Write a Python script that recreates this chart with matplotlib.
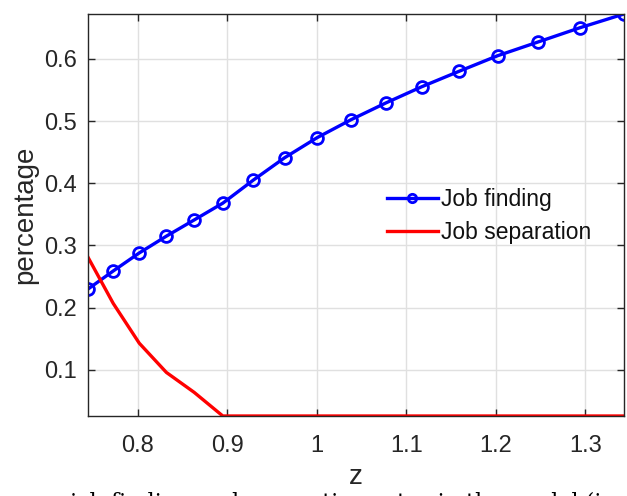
import matplotlib
matplotlib.use('Agg')
import matplotlib.pyplot as plt

# productivity grid z and model rates
z = [0.7445, 0.7726, 0.8017, 0.8320, 0.8630, 0.8950, 0.9290, 0.9640, 1.0000,
     1.0380, 1.0770, 1.1170, 1.1590, 1.2020, 1.2470, 1.2940, 1.3430]
job_finding = [0.230, 0.259, 0.288, 0.315, 0.341, 0.368, 0.405, 0.441, 0.473,
               0.502, 0.529, 0.555, 0.580, 0.605, 0.627, 0.650, 0.672]
job_separation = [0.281, 0.207, 0.143, 0.096, 0.064, 0.026, 0.026, 0.026, 0.026,
                  0.026, 0.026, 0.026, 0.026, 0.026, 0.026, 0.026, 0.026]
xticks = [0.8, 0.9, 1.0, 1.1, 1.2, 1.3]
xtick_labels = ['0.8', '0.9', '1', '1.1', '1.2', '1.3']
yticks = [0.1, 0.2, 0.3, 0.4, 0.5, 0.6]

plt.rcParams['font.family'] = ['Liberation Sans', 'DejaVu Sans']

fig = plt.figure(figsize=(6.27, 4.96), dpi=100)
ax = fig.add_axes([0.1404, 0.1613, 0.8548, 0.8105])

ax.plot(z, job_finding, color='blue', lw=2.4, marker='o', ms=8.5,
        mfc='none', mew=2.0, label='Job finding')
ax.plot(z, job_separation, color='red', lw=2.4, label='Job separation')

ax.set_xlim(z[0], z[-1])
ax.set_ylim(0.026, 0.672)
ax.set_xticks(xticks)
ax.set_xticklabels(xtick_labels)
ax.set_yticks(yticks)
ax.grid(True, color='#e0e0e0', lw=1.0)
ax.set_axisbelow(True)
ax.tick_params(direction='in', length=5, width=1, colors='#262626',
               labelsize=17, top=True, right=True)
ax.tick_params(axis='x', pad=14)
ax.tick_params(axis='y', pad=8)
for s in ax.spines.values():
    s.set_color('#262626')
    s.set_linewidth(1.0)

ax.set_xlabel('z', fontsize=20, color='#262626', labelpad=5)
ax.set_ylabel('percentage', fontsize=20, color='#262626', labelpad=4)

leg = ax.legend(loc='center left', bbox_to_anchor=(0.558, 0.4975), frameon=False,
                fontsize=16.5, handlelength=2.2, handletextpad=0.15,
                labelspacing=0.45, borderpad=0, borderaxespad=0)
leg.legend_handles[0].set_markersize(6)
for t in leg.get_texts():
    t.set_color('#111111')

# cropped caption line at the very bottom of the figure
fig.text(0.11, -0.027, 'job finding and separation rates in the model (in',
         fontsize=16, family='DejaVu Serif', va='baseline', ha='left')

fig.savefig('out.png', dpi=100)
